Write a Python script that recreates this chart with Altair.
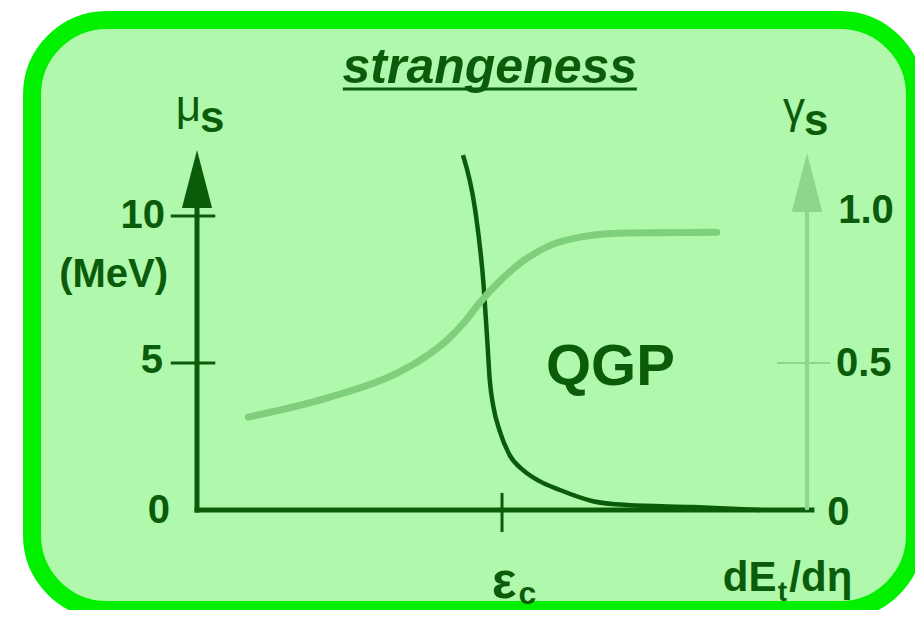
import altair as alt
import pandas as pd

# ---------------- data ----------------
# mu_s (MeV) curve, dark
mu_x = [43.6, 45.6, 47.0, 47.6, 48.0, 48.6, 49.6, 51.3, 53.5, 56.0, 59.5, 64.9, 70.5, 81.3, 92.3]
mu_v = [12.07, 10.20, 7.60, 5.70, 4.40, 3.50, 2.70, 1.85, 1.35, 1.00, 0.68, 0.30, 0.17, 0.10, 0.0]
# gamma_s curve, light
g_x = [8.4, 21.8, 32.8, 36.6, 41.0, 43.9, 46.4, 49.7, 53.0, 57.9, 62.8, 70.0, 85.2]
g_v = [0.316, 0.384, 0.466, 0.510, 0.578, 0.640, 0.707, 0.780, 0.840, 0.900, 0.928, 0.942, 0.945]

# axes (data units)
mu_axis_top = 10.6
x_axis_end = 100.8
eps_c = 50
gamma_axis_x = 100
gamma_axis_top = 1.05
left_ticks = [10, 5]
right_ticks = [0.5]
mu_arrow = 11.26
g_arrow = 1.114

# labels
left_lab_text = ["10", "(MeV)", "5", "0"]
left_lab_x = [-5.25, -4.75, -5.57, -4.43]
left_lab_y = [9.59, 7.59, 4.66, -0.44]
right_lab_text = ["1.0", "0.5", "0"]
right_lab_x = [105.1, 104.75, 103.3]
right_lab_y = [9.76, 4.56, -0.51]

X_DOM = [-27.05, 117.70]
MU_DOM = [-3.401, 16.667]
G_DOM = [-0.3401, 1.6667]

DARK = "#0a5c0a"
LIGHT = "#80cf7d"
LIGHT_AX = "#8ed68b"
FILL = "#b0f8ac"
BORDER = "#00f000"
FONT = "Liberation Sans"

xs = alt.Scale(domain=X_DOM, nice=False, zero=False)
ys = alt.Scale(domain=MU_DOM, nice=False, zero=False)
gs = alt.Scale(domain=G_DOM, nice=False, zero=False)

X = lambda f: alt.X(f, type="quantitative", scale=xs, axis=None)
YM = lambda f: alt.Y(f, type="quantitative", scale=ys, axis=None)
YG = lambda f: alt.Y(f, type="quantitative", scale=gs, axis=None)

layers = []

# dark axes
ax_df = pd.DataFrame({"x": [0, 0], "x2": [0, x_axis_end], "y": [0, 0], "y2": [mu_axis_top, 0]})
layers.append(alt.Chart(ax_df).mark_rule(color=DARK, strokeWidth=5, strokeCap="square").encode(
    x=X("x"), x2="x2", y=YM("y"), y2="y2"))

tick_df = pd.DataFrame({"x": [-4.3] * len(left_ticks) + [eps_c],
                        "x2": [3.0] * len(left_ticks) + [eps_c],
                        "y": left_ticks + [0.58], "y2": left_ticks + [-0.75]})
layers.append(alt.Chart(tick_df).mark_rule(color=DARK, strokeWidth=3).encode(
    x=X("x"), x2="x2", y=YM("y"), y2="y2"))

arrow_path = "M0,-1L0.52,1L-0.52,1Z"
layers.append(alt.Chart(pd.DataFrame({"x": [0], "y": [mu_arrow]})).mark_point(
    shape=arrow_path, filled=True, size=3364, color=DARK, opacity=1).encode(x=X("x"), y=YM("y")))

# light (gamma) axis
gax_df = pd.DataFrame({"x": [gamma_axis_x], "x2": [gamma_axis_x], "y": [0], "y2": [gamma_axis_top]})
layers.append(alt.Chart(gax_df).mark_rule(color=LIGHT_AX, strokeWidth=4).encode(
    x=X("x"), x2="x2", y=YG("y"), y2="y2"))
gt_df = pd.DataFrame({"x": [95.1] * len(right_ticks), "x2": [103.8] * len(right_ticks),
                      "y": right_ticks, "y2": right_ticks})
layers.append(alt.Chart(gt_df).mark_rule(color=LIGHT_AX, strokeWidth=2).encode(
    x=X("x"), x2="x2", y=YG("y"), y2="y2"))
layers.append(alt.Chart(pd.DataFrame({"x": [gamma_axis_x], "y": [g_arrow]})).mark_point(
    shape=arrow_path, filled=True, size=3481, color=LIGHT_AX, opacity=1).encode(x=X("x"), y=YG("y")))

# curves
mu_df = pd.DataFrame({"x": mu_x, "v": mu_v})
layers.append(alt.Chart(mu_df).mark_line(color=DARK, strokeWidth=4.5, interpolate="monotone").encode(
    x=X("x"), y=YM("v")))
g_df = pd.DataFrame({"x": g_x, "v": g_v})
layers.append(alt.Chart(g_df).mark_line(color=LIGHT, strokeWidth=7, interpolate="monotone",
                                        strokeCap="round").encode(x=X("x"), y=YG("v")))


def text_layer(texts, xv, yv, size, weight="bold", align="left", style="normal"):
    df = pd.DataFrame({"t": texts, "x": xv, "y": yv})
    return alt.Chart(df).mark_text(font=FONT, fontSize=size, fontWeight=weight, align=align,
                                   baseline="alphabetic", fontStyle=style, color=DARK).encode(
        x=X("x"), y=YM("y"), text="t:N")


layers.append(text_layer(left_lab_text, left_lab_x, left_lab_y, 40, align="right"))
layers.append(text_layer(right_lab_text, right_lab_x, right_lab_y, 40, align="left"))
layers.append(text_layer(["QGP"], [57.2], [4.25], 58))
# title + underline
layers.append(text_layer(["strangeness"], [48.0], [14.52], 50, align="center", style="italic"))
ul_df = pd.DataFrame({"x": [23.9], "x2": [72.1], "y": [14.32], "y2": [14.32]})
layers.append(alt.Chart(ul_df).mark_rule(color=DARK, strokeWidth=3).encode(
    x=X("x"), x2="x2", y=YM("y"), y2="y2"))
# axis titles
layers.append(text_layer(["μ", "γ"], [0.66, 99.67], [13.23, 13.16], 44, weight="normal", align="right"))
layers.append(text_layer(["s", "s"], [0.49, 99.5], [12.86, 12.76], 44))
layers.append(text_layer(["ε"], [48.3], [-3.0], 52))
layers.append(text_layer(["c"], [52.7], [-3.2], 32))
layers.append(text_layer(["dE", "/dη"], [86.2, 97.1], [-2.76, -2.76], 42))
layers.append(text_layer(["t"], [95.2], [-3.1], 28))

chart = alt.layer(*layers).resolve_scale(y="independent").properties(
    width=883, height=590,
    autosize=alt.AutoSizeParams(type="none"),
    padding={"left": 24, "top": 12, "right": 0, "bottom": 0},
    background="white",
).configure_view(
    fill=FILL, stroke=BORDER, strokeWidth=18, cornerRadius=75
)

chart.save("out.html", embed_options={"renderer": "svg", "actions": False})
